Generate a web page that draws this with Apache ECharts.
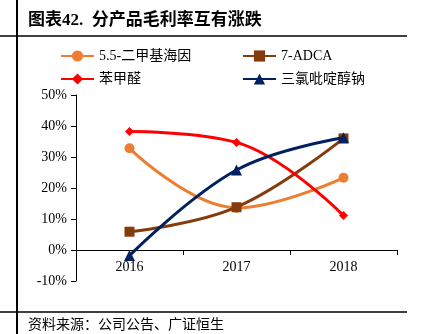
<!DOCTYPE html>
<html><head><meta charset="utf-8">
<script src="https://cdn.jsdelivr.net/npm/echarts@6/dist/echarts.min.js"></script>
<style>html,body{margin:0;padding:0;background:#fff}#c{width:425px;height:334px}</style>
</head><body><div id="c"></div>
<script>
const categories = ['2016', '2017', '2018'];
const seriesNames = ['5.5-二甲基海因', '7-ADCA', '苯甲醛', '三氯吡啶醇钠'];
const dimethylhydantoin = [32.8, 13.6, 23.3];
const adca = [5.9, 13.8, 36.0];
const benzaldehyde = [38.2, 34.7, 11.1];
const trichloropyridinol = [-1.8, 25.8, 36.2];
const yTicks = [-10, 0, 10, 20, 30, 40, 50];

const FONT = '"Liberation Serif", "Noto Sans CJK SC", serif';
const colors = ['#ED7D31', '#843C0C', '#FF0000', '#002060'];
const symbols = ['circle', 'rect', 'diamond', 'triangle'];
const symbolSizes = [10, 10, 9, 11];
const values = [dimethylhydantoin, adca, benzaldehyde, trichloropyridinol];
const legendPos = [[55, 44], [237, 44], [55, 67], [237, 67]];

const chart = echarts.init(document.getElementById('c'));
chart.setOption({
  animation: false,
  grid: { left: 76, right: 28, top: 95, bottom: 53 },
  legend: seriesNames.map((n, i) => ({
    data: [n], left: legendPos[i][0], top: legendPos[i][1],
    itemWidth: 33, itemHeight: 14, itemGap: 0,
    textStyle: { fontFamily: FONT, fontSize: 14, color: '#000' }
  })),
  xAxis: {
    type: 'category', data: categories,
    axisLine: { onZero: true, lineStyle: { color: '#000', width: 1 } },
    axisTick: { show: true, length: 5, inside: false, lineStyle: { color: '#000' } },
    axisLabel: { fontFamily: FONT, fontSize: 14, color: '#000', margin: -21 }
  },
  yAxis: {
    type: 'value', min: yTicks[0], max: yTicks[yTicks.length - 1], interval: 10,
    axisLine: { show: true, lineStyle: { color: '#000', width: 1 } },
    axisTick: { show: true, length: 5, lineStyle: { color: '#000' } },
    splitLine: { show: false },
    axisLabel: { fontFamily: FONT, fontSize: 14, color: '#000', margin: 9, formatter: v => v + '%' }
  },
  series: seriesNames.map((n, i) => ({
    name: n, type: 'line', data: values[i], smooth: 0.4,
    symbol: symbols[i], symbolSize: symbolSizes[i],
    lineStyle: { color: colors[i], width: 3 },
    itemStyle: { color: colors[i] },
    z: 2 + i
  })),
  graphic: [
    { type: 'line', shape: { x1: 17, y1: 0, x2: 17, y2: 334 }, style: { stroke: '#000', lineWidth: 2 } },
    { type: 'line', shape: { x1: 0, y1: 36, x2: 407, y2: 36 }, style: { stroke: '#000', lineWidth: 1.5 } },
    { type: 'line', shape: { x1: 0, y1: 312, x2: 407, y2: 312 }, style: { stroke: '#000', lineWidth: 1.5 } },
    { type: 'text', left: 28, top: 12, style: { text: '图表42.  分产品毛利率互有涨跌', font: 'bold 17px ' + FONT, fill: '#000' } },
    { type: 'text', left: 28, top: 318, style: { text: '资料来源：公司公告、广证恒生', font: '14px ' + FONT, fill: '#000' } }
  ]
});
</script></body></html>
